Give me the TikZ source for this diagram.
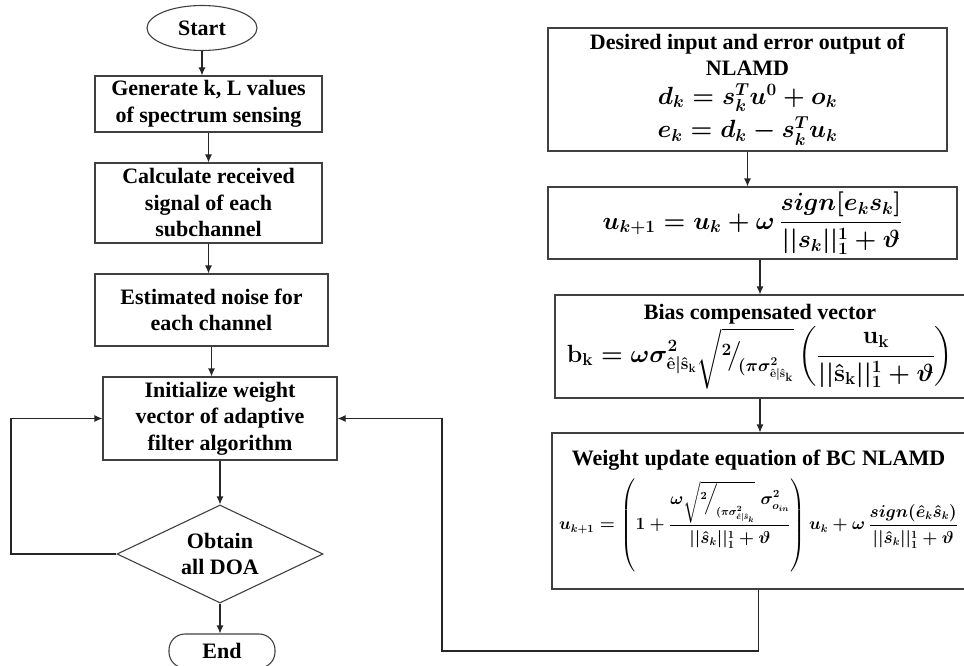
\documentclass[tikz,border=0pt]{standalone}
\usepackage{amsmath}
\usepackage{fontspec}
\setmainfont{Liberation Serif}
\usetikzlibrary{shapes.geometric,arrows.meta,positioning}

\tikzset{
  base/.style={draw=black!75, line width=1.1pt, align=center, inner sep=0pt,
    font=\bfseries\boldmath\fontsize{22}{26.5}\selectfont},
  procbox/.style={base, rectangle},
  termbox/.style={base, ellipse},
  stopbox/.style={base, rectangle, rounded corners=16pt},
  decbox/.style={base, diamond, aspect=2.1},
  arr/.style={draw=black!85, line width=1.1pt, -{Latex[length=8pt,width=7pt]}},
}
\newcommand{\eqsize}[1]{\fontsize{#1}{1.2\dimexpr#1pt\relax}\selectfont}

\begin{document}
\begin{tikzpicture}[x=1pt,y=-1pt]
\useasboundingbox (0,0) rectangle (964,666);
% left column
\node[termbox, minimum width=110pt, minimum height=45pt] (start) at (202,28) {Start};
\node[procbox, minimum width=227pt, minimum height=56pt] (gen) at (208.5,104) {Generate k, L values\\of spectrum sensing};
\node[procbox, minimum width=227pt, minimum height=80pt] (calc) at (208.5,203) {Calculate received\\signal of each\\subchannel};
\node[procbox, minimum width=233pt, minimum height=72pt] (est) at (211.5,310) {Estimated noise for\\each channel};
\node[procbox, minimum width=234pt, minimum height=83pt] (init) at (220,418.5) {Initialize weight\\vector of adaptive\\filter algorithm};
\node[decbox, minimum width=206pt, minimum height=98pt] (doa) at (220,554) {Obtain\\all DOA};
\node[stopbox, minimum width=106pt, minimum height=34pt] (end) at (222,651) {End};
% right column
\node[procbox, minimum width=399pt, minimum height=123pt] (desired) at (747.5,89.5) {Desired input and error output of\\NLAMD\\[2pt]{\eqsize{23.5}$d_k = s_k^T u^0 + o_k$}\\[4pt]{\eqsize{23.5}$e_k = d_k - s_k^T u_k$}};
\node[procbox, minimum width=409pt, minimum height=72pt] (sign) at (752.5,223) {\eqsize{26}$\displaystyle u_{k+1} = u_k + \omega\,\frac{sign[e_k s_k]}{||s_k||_1^1 + \vartheta}$};
\node[procbox, minimum width=410pt, minimum height=103pt] (bias) at (760,346.5) {Bias compensated vector\\[1pt]{\eqsize{24.5}$\displaystyle \mathbf{b_k} = \omega\sigma^2_{\hat{\mathbf{e}}|\hat{\mathbf{s}}_\mathbf{k}} \sqrt{{}^{2}\!\big/_{\!(\pi\sigma^2_{\hat{\mathbf{e}}|\hat{\mathbf{s}}_\mathbf{k}}}}\left(\frac{\mathbf{u_k}}{||\hat{\mathbf{s}}_\mathbf{k}||_1^1 + \vartheta}\right)$}};
\node[procbox, minimum width=413pt, minimum height=156pt] (weight) at (758.5,511) {Weight update equation of BC NLAMD\\[8pt]{\eqsize{16}$\displaystyle u_{k+1} = \left(\rule[-40pt]{0pt}{86pt}1 + \frac{\omega\sqrt{{}^{2}\!\Big/_{\!(\pi\sigma^2_{\hat{e}|\hat{s}_k}}}\;\sigma^2_{o_{in}}}{||\hat{s}_k||_1^1 + \vartheta}\right) u_k + \omega\,\frac{sign(\hat{e}_k\hat{s}_k)}{||\hat{s}_k||_1^1 + \vartheta}$}};
% connectors
\draw[arr] (start.south) -- (start.south |- gen.north);
\draw[arr] (gen.south) -- (calc.north);
\draw[arr] (calc.south) -- (calc.south |- est.north);
\draw[arr] (est.south) -- (est.south |- init.north);
\draw[arr] (init.south) -- (doa.north);
\draw[arr] (doa.south) -- (doa.south |- end.north);
\coordinate (lturn) at (11,554);
\draw[arr] (doa.west) -- (lturn) |- (init.west);
\draw[arr] (desired.south) -- (desired.south |- sign.north);
\draw[arr] (bias.north |- sign.south) -- (bias.north);
\draw[arr] (bias.south) -- (bias.south |- weight.north);
\coordinate (rturn) at (442,651);
\draw[arr] (weight.south) |- (rturn) |- (init.east);
\end{tikzpicture}
\end{document}
